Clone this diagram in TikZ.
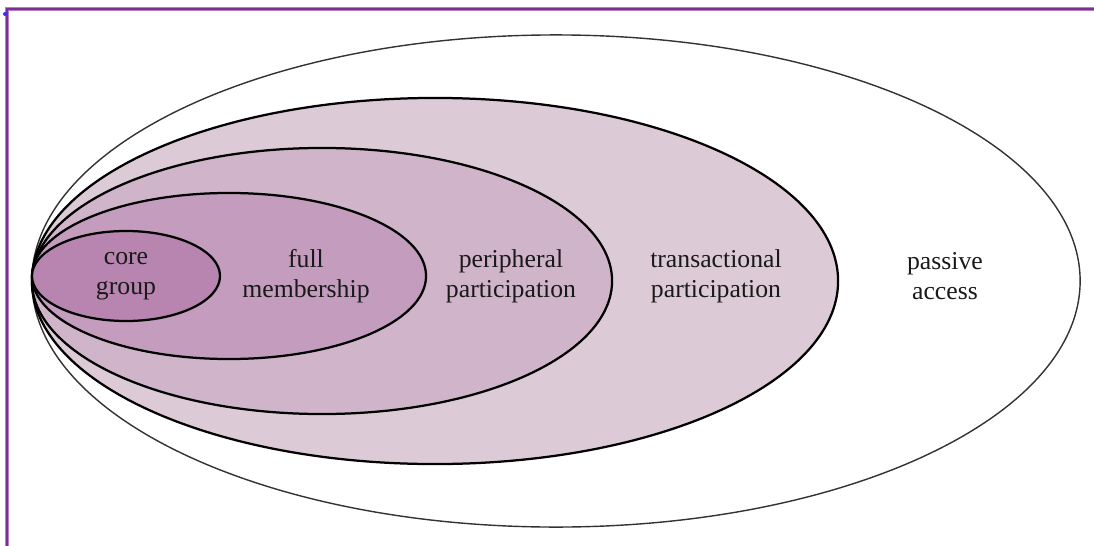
\documentclass[tikz,border=0pt]{standalone}
\usepackage{fontspec}
\setmainfont{Liberation Serif}
\usetikzlibrary{shapes.geometric}

\definecolor{frameline}{RGB}{125,45,150}
\definecolor{corefill}{RGB}{183,133,176}
\definecolor{fullfill}{RGB}{196,156,190}
\definecolor{periphfill}{RGB}{208,180,202}
\definecolor{transfill}{RGB}{220,203,214}

\tikzstyle{ring} = [ellipse, draw=black, line width=1.6pt, inner sep=0pt, outer sep=0pt]
\tikzstyle{tag} = [align=center, text=black!90, font=\fontsize{18.3}{21.5}\selectfont]

\begin{document}
\begin{tikzpicture}[x=0.025cm, y=-0.025cm]
\useasboundingbox (0,0) rectangle (1094,546);
% frame lines at top and left
\coordinate (corner) at (7,9);
\coordinate (topend) at (1094,9);
\coordinate (leftend) at (7,546);
\draw[frameline!60, line width=2.2pt] (leftend) -- (corner) -- (topend);
\draw[frameline, line width=1.2pt] (leftend) -- (corner) -- (topend);
\fill[blue!80] (5,14) circle (2);

% nested rings, outermost first
\node[ring, line width=1pt, draw=black!80, fill=white, minimum width=26.2cm, minimum height=12.3cm] (passive) at (556,281) {};
\node[ring, fill=transfill, minimum width=20.15cm, minimum height=9.15cm] (trans) at (435,281) {};
\node[ring, fill=periphfill, minimum width=14.5cm, minimum height=6.65cm] (periph) at (322,281) {};
\node[ring, fill=fullfill, minimum width=9.85cm, minimum height=4.15cm] (full) at (229,276) {};
\node[ring, fill=corefill, minimum width=4.7cm, minimum height=2.25cm] (core) at (126,276) {};

% labels
\node[tag] (coretext) at (126,276) {core\\group};
\node[tag] (fulltext) at (306,276) {full\\membership};
\node[tag] (periphtext) at (511,276) {peripheral\\participation};
\node[tag] (transtext) at (716,276) {transactional\\participation};
\node[tag] (passivetext) at (945,276) {passive\\access};
\end{tikzpicture}
\end{document}
